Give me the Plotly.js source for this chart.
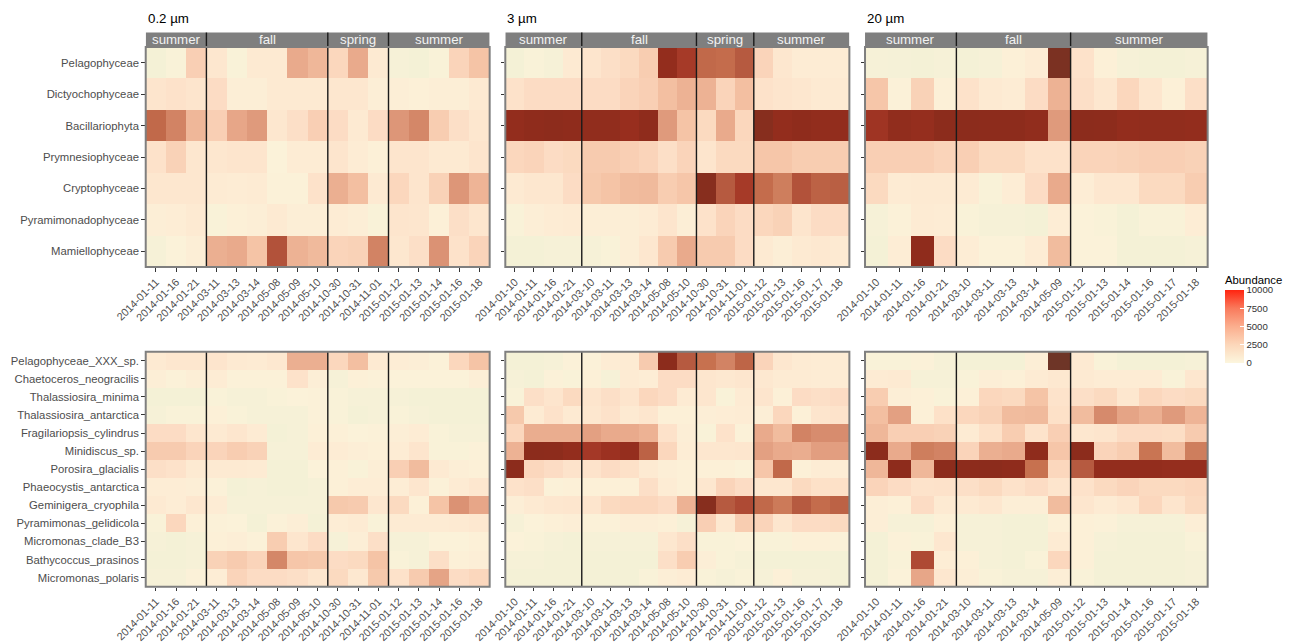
<!DOCTYPE html>
<html>
<head>
<meta charset="utf-8">
<script src="https://cdn.plot.ly/plotly-3.0.1.min.js"></script>
<style>
  html, body { margin: 0; padding: 0; background: #ffffff; }
  #chart { width: 1293px; height: 642px; }
</style>
</head>
<body>
<div id="chart"></div>
<script>
// ---- categories ----
const classNames = ["Pelagophyceae", "Dictyochophyceae", "Bacillariophyta", "Prymnesiophyceae",
  "Cryptophyceae", "Pyramimonadophyceae", "Mamiellophyceae"];
const speciesNames = ["Pelagophyceae_XXX_sp.", "Chaetoceros_neogracilis", "Thalassiosira_minima",
  "Thalassiosira_antarctica", "Fragilariopsis_cylindrus", "Minidiscus_sp.", "Porosira_glacialis",
  "Phaeocystis_antarctica", "Geminigera_cryophila", "Pyramimonas_gelidicola", "Micromonas_clade_B3",
  "Bathycoccus_prasinos", "Micromonas_polaris"];

const sizeLabels = ["0.2 µm", "3 µm", "20 µm"];

const dates02 = ["2014-01-11", "2014-01-16", "2014-01-21", "2014-03-11", "2014-03-13", "2014-03-14",
  "2014-05-08", "2014-05-09", "2014-05-10", "2014-10-30", "2014-10-31", "2014-11-01",
  "2015-01-12", "2015-01-13", "2015-01-14", "2015-01-16", "2015-01-18"];
const seasons02 = ["summer", "summer", "summer", "fall", "fall", "fall", "fall", "fall", "fall",
  "spring", "spring", "spring", "summer", "summer", "summer", "summer", "summer"];

const dates3 = ["2014-01-10", "2014-01-11", "2014-01-16", "2014-01-21", "2014-03-10", "2014-03-11",
  "2014-03-13", "2014-03-14", "2014-05-08", "2014-05-10", "2014-10-30", "2014-10-31", "2014-11-01",
  "2015-01-12", "2015-01-13", "2015-01-16", "2015-01-17", "2015-01-18"];
const seasons3 = ["summer", "summer", "summer", "summer", "fall", "fall", "fall", "fall", "fall", "fall",
  "spring", "spring", "spring", "summer", "summer", "summer", "summer", "summer"];

const dates20 = ["2014-01-10", "2014-01-11", "2014-01-16", "2014-01-21", "2014-03-10", "2014-03-11",
  "2014-03-13", "2014-03-14", "2014-05-09", "2015-01-12", "2015-01-13", "2015-01-14",
  "2015-01-16", "2015-01-17", "2015-01-18"];
const seasons20 = ["summer", "summer", "summer", "summer", "fall", "fall", "fall", "fall", "fall",
  "summer", "summer", "summer", "summer", "summer", "summer"];

// legend ticks
const legendTicks = [0, 2500, 5000, 7500, 10000];
const legendTickText = ["0", "2500", "5000", "7500", "10000"];

// ---- abundance, one row per class / species, one column per date ----
const classAbund02 = [
  [0, 100, 1500, 600, 100, 500, 500, 3000, 2500, 1200, 3000, 500, 50, 0, 100, 1300, 2000],
  [700, 800, 700, 1000, 300, 300, 500, 500, 500, 600, 600, 300, 300, 250, 300, 300, 500],
  [6500, 5000, 2500, 1500, 3200, 3800, 600, 900, 1500, 1000, 500, 1000, 4000, 4800, 1600, 900, 600],
  [800, 1400, 600, 600, 700, 700, 150, 400, 400, 700, 400, 250, 700, 700, 500, 500, 700],
  [600, 600, 600, 450, 400, 450, 200, 200, 800, 2800, 2200, 500, 1200, 700, 1400, 4000, 2600],
  [300, 350, 500, 100, 250, 300, 500, 300, 300, 400, 300, 100, 700, 650, 250, 900, 650],
  [50, 150, 300, 2800, 3000, 2000, 8000, 2700, 2400, 1300, 1400, 5000, 600, 900, 4200, 800, 1300]
];
const classAbund3 = [
  [0, 100, 50, 500, 700, 900, 1100, 1600, 12000, 9500, 6500, 6300, 7500, 1300, 600, 400, 400, 400],
  [800, 1000, 1000, 1000, 1000, 1000, 1300, 1500, 2200, 2700, 2700, 1300, 2200, 800, 700, 600, 500, 500],
  [12000, 12500, 12700, 12500, 12300, 12300, 11500, 12500, 3800, 2000, 1100, 3000, 1200, 13000, 12000, 12500, 12200, 12200],
  [1200, 1300, 1000, 1100, 1700, 1700, 1500, 1300, 900, 1300, 700, 1100, 1100, 1900, 1900, 1600, 1600, 1600],
  [500, 600, 600, 1000, 1800, 2000, 2300, 2400, 1600, 1900, 13000, 7500, 9500, 6300, 5300, 8000, 7000, 7200],
  [100, 300, 400, 450, 300, 300, 300, 400, 700, 300, 800, 1300, 1000, 1200, 1400, 700, 1000, 1000],
  [0, 0, 50, 50, 50, 100, 300, 600, 1700, 3000, 1700, 1700, 1000, 500, 300, 500, 550, 500]
];
const classAbund20 = [
  [50, 30, 0, 50, 0, 50, 250, 400, 13500, 800, 250, 50, 0, 0, 50],
  [1900, 200, 1400, 250, 800, 500, 400, 1000, 2700, 900, 600, 1200, 650, 250, 900],
  [10500, 12300, 11800, 12800, 12800, 12700, 12700, 12300, 3800, 12800, 12700, 12000, 12300, 12300, 12000],
  [1500, 1500, 1500, 1300, 1500, 1100, 1100, 800, 800, 1300, 1300, 1400, 1500, 1500, 1400],
  [1100, 450, 500, 500, 450, 100, 350, 1000, 3000, 350, 600, 600, 1100, 1100, 1600],
  [50, 200, 450, 400, 100, 50, 50, 0, 350, 150, 100, 0, 100, 100, 350],
  [0, 350, 12500, 1000, 350, 150, 150, 400, 2300, 150, 150, 0, 0, 0, 50]
];

const speciesAbund02 = [
  [500, 600, 600, 700, 500, 450, 550, 2800, 2800, 1200, 2200, 500, 350, 300, 200, 1200, 2000],
  [300, 200, 300, 400, 200, 200, 200, 800, 300, 50, 250, 200, 150, 150, 150, 150, 300],
  [0, 0, 0, 100, 50, 50, 100, 150, 200, 100, 50, 50, 50, 0, 0, 0, 0],
  [50, 100, 100, 250, 100, 50, 50, 50, 200, 100, 0, 50, 100, 50, 0, 0, 0],
  [1000, 1000, 650, 500, 650, 450, 0, 50, 250, 250, 150, 200, 300, 400, 100, 50, 50],
  [1700, 1700, 1300, 1300, 1600, 1400, 50, 50, 400, 400, 300, 250, 400, 700, 100, 100, 200],
  [900, 800, 500, 500, 500, 450, 0, 0, 150, 250, 100, 300, 1500, 2300, 500, 300, 250],
  [350, 350, 300, 200, 0, 50, 0, 0, 50, 250, 350, 350, 350, 650, 200, 450, 600],
  [500, 350, 600, 400, 50, 50, 50, 50, 50, 1800, 1700, 600, 1100, 250, 2000, 4200, 3200],
  [100, 1200, 250, 200, 150, 0, 200, 300, 0, 350, 450, 100, 450, 450, 450, 500, 550],
  [50, 0, 50, 250, 300, 200, 1600, 650, 1000, 50, 300, 900, 50, 50, 150, 150, 250],
  [0, 0, 50, 1400, 1700, 1300, 4800, 1900, 1800, 1000, 1100, 2000, 100, 50, 900, 250, 300],
  [50, 50, 200, 350, 1300, 1000, 1000, 900, 650, 1100, 550, 1800, 800, 1700, 3300, 1000, 1200]
];
const speciesAbund3 = [
  [0, 0, 50, 200, 200, 400, 450, 1700, 12800, 7500, 6000, 5000, 6800, 1300, 600, 450, 400, 400],
  [50, 0, 200, 100, 250, 50, 450, 350, 1000, 1000, 650, 550, 650, 550, 450, 450, 400, 400],
  [100, 900, 700, 1100, 700, 900, 700, 1200, 1000, 450, 650, 100, 450, 700, 250, 1000, 900, 1000],
  [1800, 450, 800, 500, 600, 800, 500, 650, 250, 250, 300, 350, 400, 300, 1200, 250, 700, 750],
  [1200, 2900, 2900, 2900, 3500, 3000, 3000, 2700, 800, 300, 100, 800, 200, 3000, 2300, 5000, 4500, 4500],
  [2700, 12800, 12700, 12000, 9800, 11000, 11800, 7000, 1200, 350, 600, 600, 650, 3500, 3000, 2900, 3600, 3600],
  [12800, 1200, 1000, 750, 750, 1000, 850, 500, 300, 250, 250, 250, 150, 1900, 6500, 250, 400, 350],
  [800, 900, 200, 250, 250, 250, 250, 900, 400, 250, 600, 1300, 1000, 600, 600, 1100, 850, 850],
  [300, 500, 600, 650, 700, 1100, 1200, 1200, 1000, 2700, 13000, 7500, 8500, 6500, 5500, 7500, 6300, 7000],
  [50, 150, 250, 300, 200, 200, 300, 300, 250, 50, 1500, 550, 1600, 1300, 650, 1000, 1000, 1100],
  [150, 100, 50, 0, 50, 50, 50, 50, 600, 900, 100, 100, 150, 100, 100, 250, 250, 200],
  [50, 50, 0, 0, 0, 0, 0, 0, 900, 1600, 300, 100, 50, 0, 0, 0, 0, 0],
  [0, 0, 0, 0, 0, 0, 0, 100, 300, 400, 100, 50, 100, 50, 250, 50, 50, 0]
];
const speciesAbund20 = [
  [100, 100, 200, 50, 0, 0, 0, 300, 14000, 500, 100, 0, 0, 0, 50],
  [450, 500, 50, 50, 100, 300, 250, 450, 550, 500, 400, 400, 400, 100, 600],
  [1600, 300, 250, 100, 250, 1200, 1100, 2000, 750, 900, 1100, 600, 1200, 1000, 1100],
  [2200, 3500, 250, 850, 1200, 1400, 2300, 2400, 850, 2300, 4600, 3300, 2800, 3800, 2600],
  [2500, 1500, 1500, 1400, 450, 850, 1600, 750, 1500, 600, 700, 1000, 1000, 950, 1700],
  [12800, 3000, 5300, 5000, 1300, 2800, 3000, 12500, 1900, 12800, 1300, 1600, 5800, 2300, 5300],
  [2500, 12600, 2500, 12800, 12700, 12800, 12500, 6000, 1200, 7500, 12000, 12000, 12000, 11800, 11800],
  [1300, 1000, 750, 800, 900, 1100, 800, 1000, 700, 800, 1100, 1300, 1100, 1100, 1200],
  [300, 250, 1000, 500, 500, 600, 300, 300, 2300, 650, 450, 600, 1200, 700, 1100],
  [300, 50, 50, 250, 50, 50, 0, 0, 250, 250, 200, 50, 50, 50, 300],
  [0, 200, 100, 600, 50, 50, 0, 0, 450, 250, 50, 0, 0, 0, 100],
  [0, 100, 8500, 350, 250, 50, 0, 100, 1200, 250, 0, 0, 0, 0, 50],
  [0, 150, 3200, 600, 300, 100, 50, 50, 300, 100, 0, 0, 0, 0, 50]
];

// ---- colour scales ----
const Z_MAX = 14000;
const tileStops = [
  [0, "#F4F1D6"], [150, "#FBF2D9"], [400, "#FDECD4"], [800, "#FDE2CA"], [1300, "#FAD4BA"],
  [2000, "#F5C4A6"], [3000, "#E9AA8C"], [4500, "#D78C6E"], [6000, "#C7714F"], [7500, "#B65A40"],
  [9500, "#A63A28"], [11500, "#982E1E"], [12800, "#8C2C1C"], [14000, "#6E3527"]
];
const tileScale = tileStops.map(s => [s[0] / Z_MAX, s[1]]);
const legendScale = [[0, "#FCF6DE"], [0.25, "#FCD7BA"], [0.5, "#FBAE8E"], [0.75, "#F97A5C"], [1, "#FF2410"]];

// ---- panel geometry ----
const colDomains = [[0.1127, 0.3787], [0.3908, 0.6569], [0.6690, 0.9340]];
const rowDomains = [[0.5841, 0.9268], [0.0861, 0.4522]];
const STRIP = 14.4 / 220;          // strip height as a fraction of the top-row plot height

const FONT = "Liberation Sans, Arial, Helvetica, sans-serif";
const TICK_GREY = "#4D4D4D";

const panels = [
  { dates: dates02, seasons: seasons02, names: classNames, z: classAbund02, row: 0, col: 0 },
  { dates: dates3, seasons: seasons3, names: classNames, z: classAbund3, row: 0, col: 1 },
  { dates: dates20, seasons: seasons20, names: classNames, z: classAbund20, row: 0, col: 2 },
  { dates: dates02, seasons: seasons02, names: speciesNames, z: speciesAbund02, row: 1, col: 0 },
  { dates: dates3, seasons: seasons3, names: speciesNames, z: speciesAbund3, row: 1, col: 1 },
  { dates: dates20, seasons: seasons20, names: speciesNames, z: speciesAbund20, row: 1, col: 2 }
];

// group consecutive identical seasons into runs
function seasonRuns(seasons) {
  const runs = [];
  seasons.forEach((s, i) => {
    if (runs.length && runs[runs.length - 1].label === s) runs[runs.length - 1].end = i;
    else runs.push({ label: s, start: i, end: i });
  });
  return runs;
}

const traces = [];
const layout = {
  width: 1293, height: 642,
  margin: { l: 0, r: 0, t: 0, b: 0 },
  paper_bgcolor: "#ffffff", plot_bgcolor: "#ffffff",
  showlegend: false,
  font: { family: FONT, color: TICK_GREY },
  shapes: [], annotations: []
};

panels.forEach((p, k) => {
  const n = k + 1;
  const xa = n === 1 ? "x" : "x" + n;
  const ya = n === 1 ? "y" : "y" + n;
  const xKey = n === 1 ? "xaxis" : "xaxis" + n;
  const yKey = n === 1 ? "yaxis" : "yaxis" + n;

  traces.push({
    type: "heatmap",
    x: p.dates, y: p.names, z: p.z,
    xaxis: xa, yaxis: ya,
    colorscale: tileScale, zmin: 0, zmax: Z_MAX,
    showscale: false, hoverongaps: false,
    hovertemplate: "%{y}<br>%{x}<br>%{z}<extra></extra>"
  });

  layout[xKey] = {
    domain: colDomains[p.col], anchor: ya, type: "category",
    categoryorder: "array", categoryarray: p.dates,
    tickangle: -45, ticks: "outside", ticklen: 3.5, tickwidth: 1, tickcolor: "#333333",
    tickfont: { family: FONT, size: 10.8, color: TICK_GREY },
    showgrid: false, zeroline: false, showline: false, fixedrange: true
  };
  layout[yKey] = {
    domain: rowDomains[p.row], anchor: xa, type: "category",
    categoryorder: "array", categoryarray: p.names, autorange: "reversed",
    ticks: "outside", ticklen: 3.5, tickwidth: 1, tickcolor: "#333333",
    showticklabels: p.col === 0,
    tickfont: { family: FONT, size: 11.3, color: TICK_GREY },
    showgrid: false, zeroline: false, showline: false, fixedrange: true
  };

  const runs = seasonRuns(p.seasons);
  const top = p.row === 0 ? 1 + STRIP : 1;

  // facet strips with season names (top row only)
  if (p.row === 0) {
    runs.forEach(r => {
      layout.shapes.push({
        type: "rect", xref: xa, yref: ya + " domain",
        x0: r.start - 0.5, x1: r.end + 0.5, y0: 1, y1: 1 + STRIP,
        fillcolor: "#7F7F7F", line: { width: 0 }, layer: "above"
      });
      layout.annotations.push({
        xref: xa, yref: ya + " domain",
        x: (r.start + r.end) / 2, y: 1 + STRIP / 2,
        text: r.label, showarrow: false, xanchor: "center", yanchor: "middle",
        font: { family: FONT, size: 13.3, color: "#F2F2F2" }
      });
    });
    layout.annotations.push({
      xref: xa + " domain", yref: "paper", x: 0, y: 1 - 18.5 / 642,
      xanchor: "left", yanchor: "middle", showarrow: false,
      text: sizeLabels[p.col],
      font: { family: FONT, size: 13.3, color: "#000000" }
    });
  }

  // season separators
  runs.slice(1).forEach(r => {
    layout.shapes.push({
      type: "line", xref: xa, yref: ya + " domain",
      x0: r.start - 0.5, x1: r.start - 0.5, y0: 0, y1: top,
      line: { color: "#1A1A1A", width: 1.4 }, layer: "above"
    });
  });

  // panel border
  layout.shapes.push({
    type: "rect", xref: xa + " domain", yref: ya + " domain",
    x0: 0, x1: 1, y0: 0, y1: 1,
    line: { color: "#7F7F7F", width: 2 }, fillcolor: "rgba(0,0,0,0)", layer: "above"
  });
});

// colour legend on its own hidden axes
traces.push({
  type: "scatter", x: [null], y: [null], mode: "markers",
  xaxis: "x7", yaxis: "y7", hoverinfo: "skip", showlegend: false,
  marker: {
    color: [0], cmin: 0, cmax: 10000, colorscale: legendScale, showscale: true,
    colorbar: {
      x: 1225 / 1293, xanchor: "left", xpad: 0,
      y: (642 - 363) / 642, yanchor: "bottom", ypad: 0,
      len: 90, lenmode: "pixels", thickness: 19, thicknessmode: "pixels",
      outlinewidth: 0,
      tickmode: "array", tickvals: legendTicks, ticktext: legendTickText,
      ticks: "inside", ticklen: 4, tickcolor: "#FFFFFF", tickwidth: 1,
      tickfont: { family: FONT, size: 9.6, color: "#333333" },
      title: { text: "Abundance", side: "top", font: { family: FONT, size: 11.3, color: "#000000" } }
    }
  }
});
layout.xaxis7 = { domain: [0.95, 0.96], anchor: "y7", visible: false, fixedrange: true };
layout.yaxis7 = { domain: [0.5, 0.51], anchor: "x7", visible: false, fixedrange: true };

Plotly.newPlot("chart", traces, layout, { displayModeBar: false, staticPlot: true });
</script>
</body>
</html>
